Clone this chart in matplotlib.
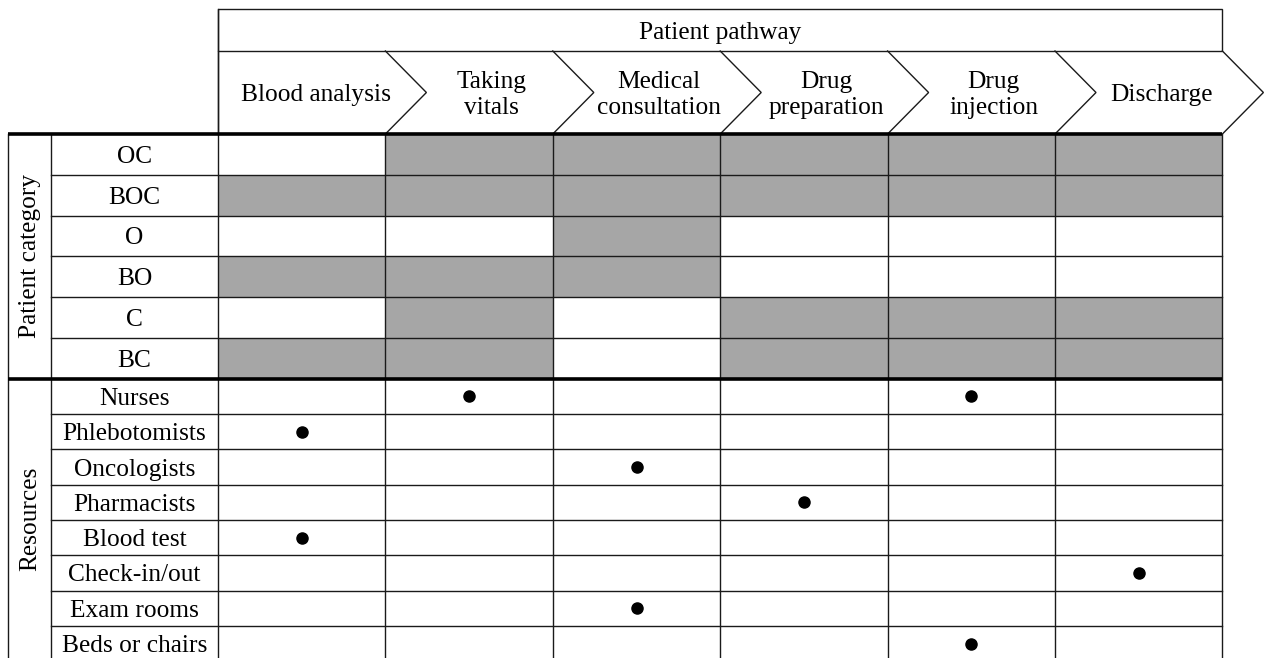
import matplotlib.pyplot as plt
from matplotlib.patches import Rectangle

# =========================
# data
# =========================
STAGES = ["Blood analysis", "Taking\nvitals", "Medical\nconsultation",
          "Drug\npreparation", "Drug\ninjection", "Discharge"]

CATEGORIES = ["OC", "BOC", "O", "BO", "C", "BC"]
# 1 = category goes through this stage (grey cell)
CAT_OC = [0, 1, 1, 1, 1, 1]
CAT_BOC = [1, 1, 1, 1, 1, 1]
CAT_O = [0, 0, 1, 0, 0, 0]
CAT_BO = [1, 1, 1, 0, 0, 0]
CAT_C = [0, 1, 0, 1, 1, 1]
CAT_BC = [1, 1, 0, 1, 1, 1]
CAT_MATRIX = [CAT_OC, CAT_BOC, CAT_O, CAT_BO, CAT_C, CAT_BC]

RESOURCES = ["Nurses", "Phlebotomists", "Oncologists", "Pharmacists",
             "Blood test", "Check-in/out", "Exam rooms", "Beds or chairs"]
# stage index used by each resource (dot)
RES_STAGES = [[1, 4], [0], [2], [3], [0], [5], [2], [4]]

# =========================
# layout (pixel units)
# =========================
W, H = 1264, 658
X_OUT = 8          # outer left border
X_LAB = 51         # start of row label column
X0 = 218           # first stage column
COL_W = 167.4
Y_TOP = 9
Y_HEAD = 51
Y_CAT = 134
CAT_H = 40.8
RES_H = 35.3
TIP = 41

GREY = "#a6a6a6"
LINE = "#1a1a1a"
THIN = 1.0
THICK = 2.6
FS = 18.3
DY = 2.5           # small baseline nudge for text
FONT = ["Liberation Serif", "DejaVu Serif"]

n_col = len(STAGES)
x_end = X0 + n_col * COL_W
y_res = Y_CAT + len(CATEGORIES) * CAT_H
y_bot = y_res + len(RESOURCES) * RES_H

fig = plt.figure(figsize=(W / 100, H / 100), dpi=100)
ax = fig.add_axes([0, 0, 1, 1])
ax.set_xlim(0, W)
ax.set_ylim(H, 0)
ax.axis("off")

def col_x(j):
    return X0 + j * COL_W

# grey cells
for i, row in enumerate(CAT_MATRIX):
    for j, v in enumerate(row):
        if v:
            ax.add_patch(Rectangle((col_x(j), Y_CAT + i * CAT_H), COL_W, CAT_H,
                                   facecolor=GREY, edgecolor="none", zorder=1))

# top header box
ax.add_patch(Rectangle((X0, Y_TOP), x_end - X0, Y_HEAD - Y_TOP,
                       facecolor="white", edgecolor=LINE, lw=THIN, zorder=2))
ax.text((X0 + x_end) / 2, (Y_TOP + Y_HEAD) / 2 + DY, "Patient pathway",
        ha="center", va="center", fontsize=FS, family=FONT)

# chevron row
ymid = (Y_HEAD + Y_CAT) / 2
for j in range(n_col + 1):
    xb = col_x(j)
    if j == 0:
        ax.plot([xb, xb], [Y_HEAD, Y_CAT], color=LINE, lw=THIN, zorder=3)
    else:
        ax.plot([xb, xb + TIP, xb], [Y_HEAD, ymid, Y_CAT],
                color=LINE, lw=THIN, zorder=3, solid_joinstyle="miter")
for j, s in enumerate(STAGES):
    if j == 0:
        cx = col_x(j) + COL_W / 2 + 14
    else:
        cx = col_x(j) + COL_W / 2 + TIP / 2 + 2
    ax.text(cx, ymid + DY, s, ha="center", va="center", fontsize=FS,
            family=FONT, linespacing=1.18)

# body vertical lines
for j in range(n_col + 1):
    ax.plot([col_x(j), col_x(j)], [Y_CAT, H + 5], color=LINE, lw=THIN, zorder=3)
ax.plot([X_OUT, X_OUT], [Y_CAT, H + 5], color=LINE, lw=THIN, zorder=3)
ax.plot([X_LAB, X_LAB], [Y_CAT, H + 5], color=LINE, lw=THIN, zorder=3)
ax.plot([X0, X0], [Y_TOP, Y_CAT], color=LINE, lw=THIN, zorder=3)

# horizontal lines
for i in range(1, len(CATEGORIES)):
    y = Y_CAT + i * CAT_H
    ax.plot([X_LAB, x_end], [y, y], color=LINE, lw=THIN, zorder=3)
for i in range(1, len(RESOURCES)):
    y = y_res + i * RES_H
    ax.plot([X_LAB, x_end], [y, y], color=LINE, lw=THIN, zorder=3)
for y in (Y_CAT, y_res):
    ax.plot([X_OUT, x_end], [y, y], color="black", lw=THICK, zorder=4,
            solid_capstyle="butt")

# row labels
lab_x = (X_LAB + X0) / 2
for i, c in enumerate(CATEGORIES):
    ax.text(lab_x, Y_CAT + (i + 0.5) * CAT_H + DY, c, ha="center", va="center",
            fontsize=FS, family=FONT)
for i, r in enumerate(RESOURCES):
    ax.text(lab_x, y_res + (i + 0.5) * RES_H + DY, r, ha="center", va="center",
            fontsize=FS, family=FONT)

# group labels
gx = (X_OUT + X_LAB) / 2 + 1
ax.text(gx, (Y_CAT + y_res) / 2, "Patient category", rotation=90,
        ha="center", va="center", fontsize=FS, family=FONT)
ax.text(gx, (y_res + y_bot) / 2 - 1, "Resources", rotation=90,
        ha="center", va="center", fontsize=FS, family=FONT)

# resource dots
for i, cols in enumerate(RES_STAGES):
    for j in cols:
        ax.plot(col_x(j) + COL_W / 2, y_res + (i + 0.5) * RES_H, "o",
                color="black", markersize=8, zorder=5)

fig.savefig("out.png", dpi=100)
